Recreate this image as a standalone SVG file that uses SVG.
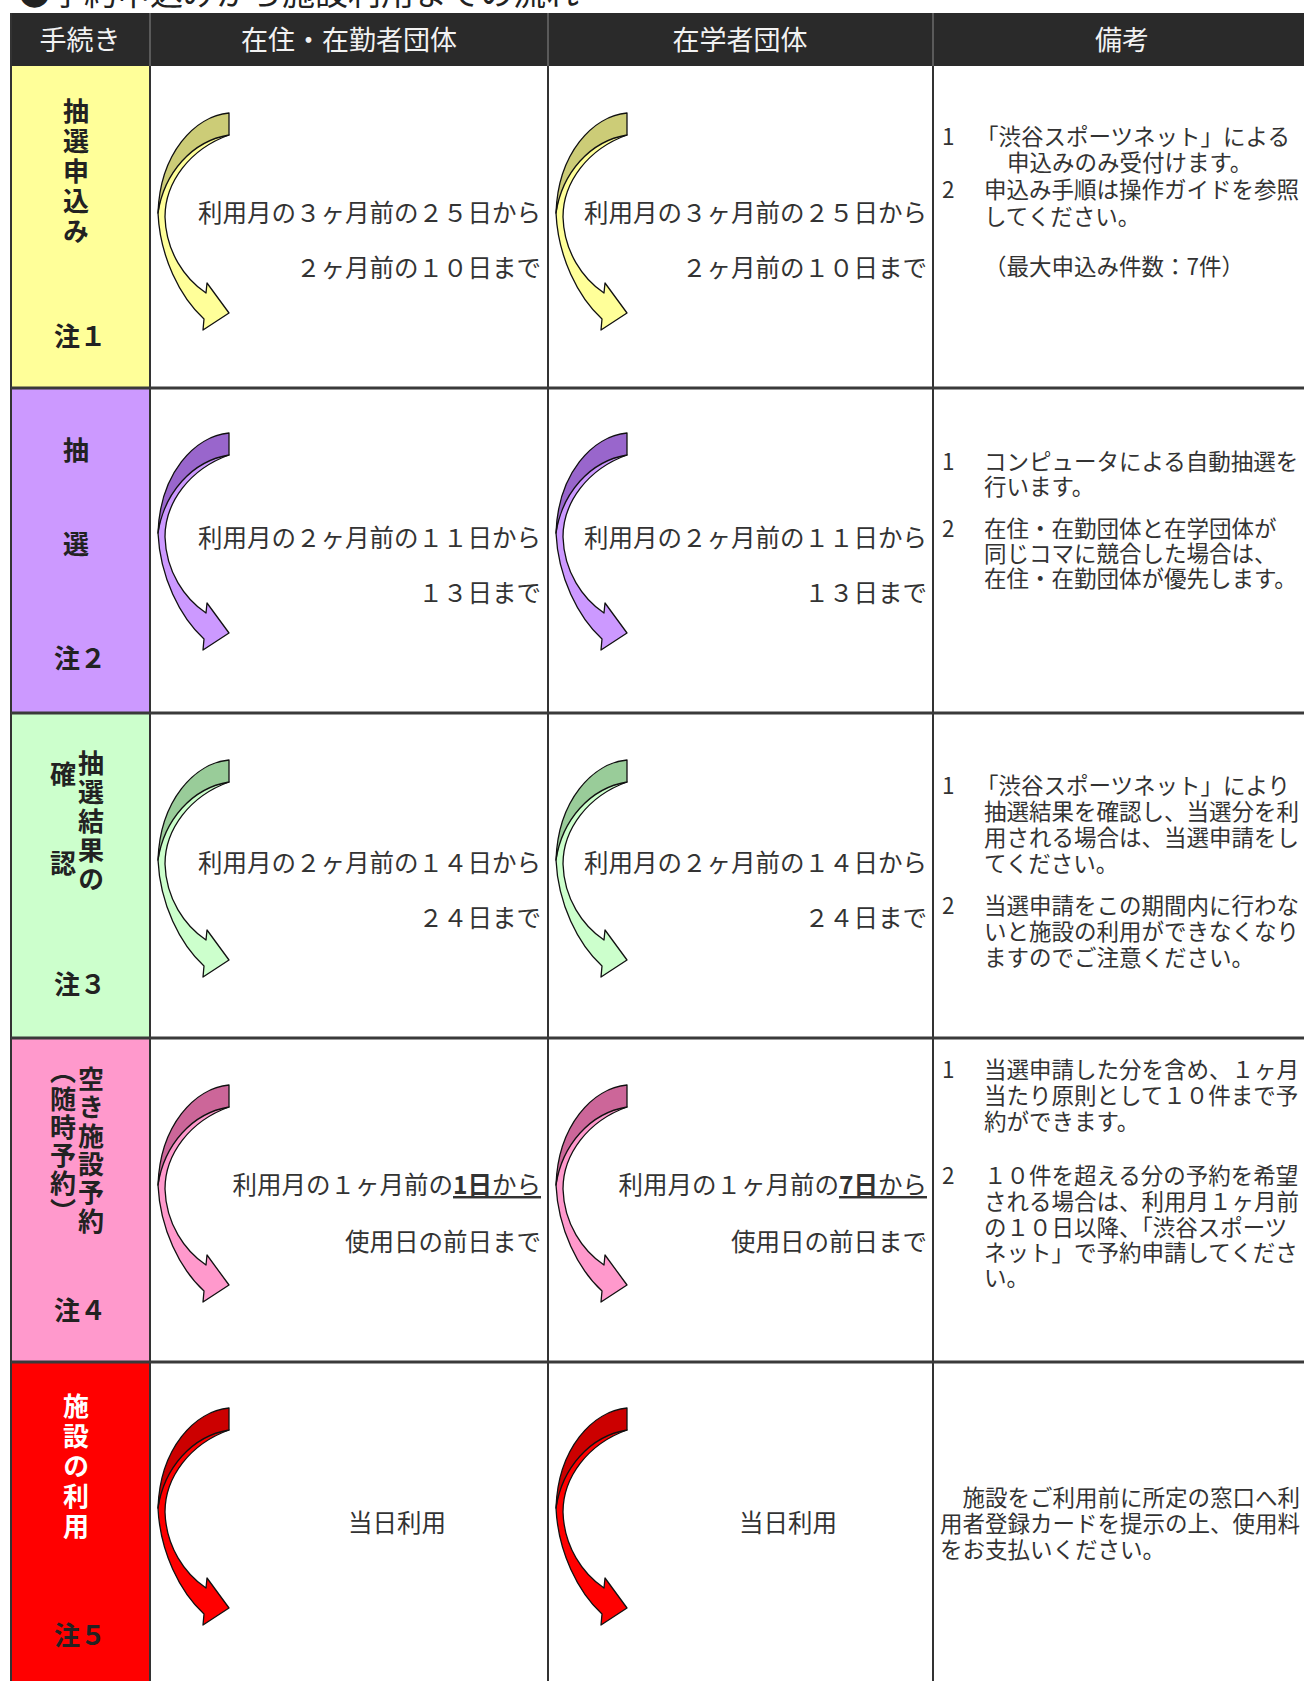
<svg xmlns="http://www.w3.org/2000/svg" xmlns:xlink="http://www.w3.org/1999/xlink" width="1304" height="1681" viewBox="0 0 1304 1681">
<style>
text{font-family:'Noto Sans CJK JP','Noto Sans CJK SC',sans-serif;}
.title{font-size:33px;fill:#222;}
.hd{font-size:27px;fill:#f2f2f2;text-anchor:middle;}
.lbl{font-size:26px;font-weight:700;fill:#222;writing-mode:vertical-rl;}
.lblw{fill:#fff;}
.note{font-size:26px;font-weight:700;fill:#222;text-anchor:middle;}
.cell{font-size:24.5px;fill:#333;text-anchor:end;}
.cellc{font-size:24.5px;fill:#333;text-anchor:middle;}
.rm{font-size:22.5px;fill:#333;}
.grid{stroke:#333;stroke-width:2;fill:none;}
.rowline{stroke:#3a3a3a;stroke-width:3;}
.arr{stroke:#111;stroke-width:1.3;stroke-linejoin:round;}
.l1{fill:#FFFF99}.d1{fill:#CCCC77}
.l2{fill:#CC99FF}.d2{fill:#9966CC}
.l3{fill:#CCFFCC}.d3{fill:#99CC99}
.l4{fill:#FF99CC}.d4{fill:#CC6699}
.l5{fill:#FF0000}.d5{fill:#CC0000}
</style>
<defs>
<path id="arrLight" d="M79,68 C42,72 12,104 8,146 C10,190 30,230 54,252 L53,263 L79,246 L57,216 L56,226 C35,212 16,185 15,150 C15,115 40,82 79,68 Z"/>
<path id="arrDark" d="M79,46 C45,49 10,86 8,146 C14,106 42,74 79,68 Z"/>
</defs>
<rect x="0" y="0" width="1304" height="1681" fill="#fff"/>
<text class="title" x="18" y="5">●予約申込みから施設利用までの流れ</text>

<g id="header">
<rect x="11" y="13" width="1293" height="53" fill="#2a2a2a"/>
<line x1="150" y1="13" x2="150" y2="66" stroke="#5a5a5a" stroke-width="2"/>
<line x1="548" y1="13" x2="548" y2="66" stroke="#5a5a5a" stroke-width="2"/>
<line x1="933" y1="13" x2="933" y2="66" stroke="#5a5a5a" stroke-width="2"/>
<text class="hd" x="80" y="50">手続き</text>
<text class="hd" x="349" y="50">在住・在勤者団体</text>
<text class="hd" x="740" y="50">在学者団体</text>
<text class="hd" x="1122" y="50">備考</text>
</g>

<g id="label-fills">
<rect x="11" y="66" width="139" height="322" fill="#FFFF99"/>
<rect x="11" y="388" width="139" height="325" fill="#CC99FF"/>
<rect x="11" y="713" width="139" height="325" fill="#CCFFCC"/>
<rect x="11" y="1038" width="139" height="324" fill="#FF99CC"/>
<rect x="11" y="1362" width="139" height="319" fill="#FF0000"/>
</g>

<g id="grid">
<line class="grid" x1="11" y1="13" x2="11" y2="1681"/>
<line class="grid" x1="150" y1="66" x2="150" y2="1681"/>
<line class="grid" x1="548" y1="66" x2="548" y2="1681"/>
<line class="grid" x1="933" y1="66" x2="933" y2="1681"/>
<line class="rowline" x1="11" y1="388" x2="1304" y2="388"/>
<line class="rowline" x1="11" y1="713" x2="1304" y2="713"/>
<line class="rowline" x1="11" y1="1038" x2="1304" y2="1038"/>
<line class="rowline" x1="11" y1="1362" x2="1304" y2="1362"/>
</g>

<g id="row1">
<text class="lbl" x="76" y="98" style="letter-spacing:4px">抽選申込み</text>
<text class="note" x="80" y="346">注１</text>
<text class="cell" x="541" y="222">利用月の３ヶ月前の２５日から</text>
<text class="cell" x="541" y="277">２ヶ月前の１０日まで</text>
<text class="cell" x="927" y="222">利用月の３ヶ月前の２５日から</text>
<text class="cell" x="927" y="277">２ヶ月前の１０日まで</text>
<text class="rm"><tspan x="942" y="145">1</tspan><tspan x="942" y="198">2</tspan></text>
<text class="rm"><tspan x="976" y="145">「渋谷スポーツネット」による</tspan><tspan x="1007" y="171">申込みのみ受付けます。</tspan><tspan x="984" y="198">申込み手順は操作ガイドを参照</tspan><tspan x="984" y="225">してください。</tspan><tspan x="984" y="275">（最大申込み件数：7件）</tspan></text>
</g>

<g id="row2">
<text class="lbl" x="76" y="437" style="letter-spacing:68px">抽選</text>
<text class="note" x="80" y="668">注２</text>
<text class="cell" x="541" y="547">利用月の２ヶ月前の１１日から</text>
<text class="cell" x="541" y="602">１３日まで</text>
<text class="cell" x="927" y="547">利用月の２ヶ月前の１１日から</text>
<text class="cell" x="927" y="602">１３日まで</text>
<text class="rm"><tspan x="942" y="470">1</tspan><tspan x="942" y="537">2</tspan></text>
<text class="rm"><tspan x="984" y="470">コンピュータによる自動抽選を</tspan><tspan x="984" y="495">行います。</tspan><tspan x="984" y="537">在住・在勤団体と在学団体が</tspan><tspan x="984" y="562">同じコマに競合した場合は、</tspan><tspan x="984" y="587">在住・在勤団体が優先します。</tspan></text>
</g>

<g id="row3">
<text class="lbl" x="91" y="750" style="letter-spacing:3px">抽選結果の</text>
<text class="lbl" x="63" y="761" style="letter-spacing:63px">確認</text>
<text class="note" x="80" y="994">注３</text>
<text class="cell" x="541" y="872">利用月の２ヶ月前の１４日から</text>
<text class="cell" x="541" y="927">２４日まで</text>
<text class="cell" x="927" y="872">利用月の２ヶ月前の１４日から</text>
<text class="cell" x="927" y="927">２４日まで</text>
<text class="rm"><tspan x="942" y="794">1</tspan><tspan x="942" y="914">2</tspan></text>
<text class="rm"><tspan x="976" y="794">「渋谷スポーツネット」により</tspan><tspan x="984" y="820">抽選結果を確認し、当選分を利</tspan><tspan x="984" y="846">用される場合は、当選申請をし</tspan><tspan x="984" y="872">てください。</tspan><tspan x="984" y="914">当選申請をこの期間内に行わな</tspan><tspan x="984" y="940">いと施設の利用ができなくなり</tspan><tspan x="984" y="966">ますのでご注意ください。</tspan></text>
</g>

<g id="row4">
<text class="lbl" x="91" y="1066" style="letter-spacing:2.4px">空き施設予約</text>
<text class="lbl" x="63" y="1058" style="letter-spacing:2px">（随時予約）</text>
<text class="note" x="80" y="1320">注４</text>
<text class="cell" x="541" y="1194">利用月の１ヶ月前の<tspan font-weight="700" text-decoration="underline">1日</tspan><tspan text-decoration="underline">から</tspan></text>
<text class="cell" x="541" y="1251">使用日の前日まで</text>
<text class="cell" x="927" y="1194">利用月の１ヶ月前の<tspan font-weight="700" text-decoration="underline">7日</tspan><tspan text-decoration="underline">から</tspan></text>
<text class="cell" x="927" y="1251">使用日の前日まで</text>
<text class="rm"><tspan x="942" y="1078">1</tspan><tspan x="942" y="1184">2</tspan></text>
<text class="rm"><tspan x="984" y="1078">当選申請した分を含め、１ヶ月</tspan><tspan x="984" y="1104">当たり原則として１０件まで予</tspan><tspan x="984" y="1130">約ができます。</tspan><tspan x="984" y="1184">１０件を超える分の予約を希望</tspan><tspan x="984" y="1210">される場合は、利用月１ヶ月前</tspan><tspan x="984" y="1236">の１０日以降、「渋谷スポーツ</tspan><tspan x="984" y="1261">ネット」で予約申請してくださ</tspan><tspan x="984" y="1286">い。</tspan></text>
</g>

<g id="row5">
<text class="lbl lblw" x="76" y="1393" style="letter-spacing:4px">施設の利用</text>
<text class="note lblw" x="80" y="1645">注５</text>
<text class="cellc" x="397" y="1532">当日利用</text>
<text class="cellc" x="788" y="1532">当日利用</text>
<text class="rm"><tspan x="940" y="1506">　施設をご利用前に所定の窓口へ利</tspan><tspan x="940" y="1532">用者登録カードを提示の上、使用料</tspan><tspan x="940" y="1558">をお支払いください。</tspan></text>
</g>

<g id="arrows" class="arr">
<g transform="translate(150,67)"><use xlink:href="#arrLight" class="l1"/><use xlink:href="#arrDark" class="d1"/></g>
<g transform="translate(548,67)"><use xlink:href="#arrLight" class="l1"/><use xlink:href="#arrDark" class="d1"/></g>
<g transform="translate(150,387)"><use xlink:href="#arrLight" class="l2"/><use xlink:href="#arrDark" class="d2"/></g>
<g transform="translate(548,387)"><use xlink:href="#arrLight" class="l2"/><use xlink:href="#arrDark" class="d2"/></g>
<g transform="translate(150,714)"><use xlink:href="#arrLight" class="l3"/><use xlink:href="#arrDark" class="d3"/></g>
<g transform="translate(548,714)"><use xlink:href="#arrLight" class="l3"/><use xlink:href="#arrDark" class="d3"/></g>
<g transform="translate(150,1039)"><use xlink:href="#arrLight" class="l4"/><use xlink:href="#arrDark" class="d4"/></g>
<g transform="translate(548,1039)"><use xlink:href="#arrLight" class="l4"/><use xlink:href="#arrDark" class="d4"/></g>
<g transform="translate(150,1362)"><use xlink:href="#arrLight" class="l5"/><use xlink:href="#arrDark" class="d5"/></g>
<g transform="translate(548,1362)"><use xlink:href="#arrLight" class="l5"/><use xlink:href="#arrDark" class="d5"/></g>
</g>
</svg>
